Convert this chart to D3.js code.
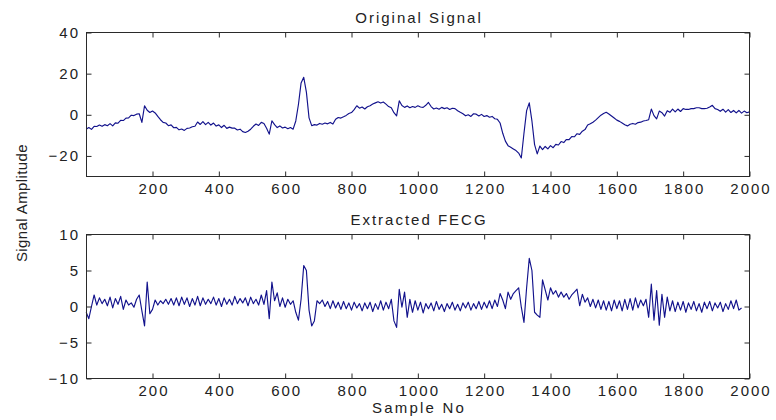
<!DOCTYPE html>
<html>
<head>
<meta charset="utf-8">
<script src="https://cdn.jsdelivr.net/npm/d3@7"></script>
<style>
  html, body { margin: 0; padding: 0; background: #fff; }
  svg text { font-family: "Liberation Sans", Arial, Helvetica, sans-serif; fill: #222; }
</style>
</head>
<body>
<svg id="chart" width="776" height="420"></svg>
<script>
// Sample spacing of the stored signals (every 8th sample, starting at 0)
const sampleStep = 8;

// Abdominal recording, samples 0..2000
const originalSignal = [
  -7, -6.2, -7.1, -5.6, -5.7, -5.0, -5.6, -4.8, -5.3, -4.3,
  -5.4, -3.9, -4.1, -2.7, -2.8, -1.6, -1.5, -0.2, -0.4, 0.3,
  0.5, -3.7, 4.4, 2.2, 1.1, 1.8, 0.9, -0.8, -2.4, -3.7,
  -4.0, -5.3, -4.9, -6.3, -6.1, -7.3, -6.9, -7.6, -6.6, -6.4,
  -5.8, -5.6, -3.5, -4.7, -3.3, -4.8, -3.7, -5.0, -4.0, -5.5,
  -4.9, -6.2, -5.1, -6.6, -6.0, -6.5, -6.5, -7.4, -7.0, -8.2,
  -8.6, -8.0, -7.0, -5.6, -4.5, -5.2, -3.7, -4.2, -6.5, -9.4,
  -2.9, -4.8, -6.2, -5.4, -6.4, -6.0, -6.8, -6.2, -7.0, -3.0,
  5.0, 15.5, 18.2, 11.0, -1.5, -5.3, -4.8, -5.0, -4.2, -4.6,
  -4.0, -4.4, -3.7, -4.5, -2.2, -1.3, -1.6, -1.0, -0.3, 0.6,
  1.1, 2.5, 4.4, 3.2, 3.8, 2.8, 3.9, 4.4, 5.2, 5.8,
  6.3, 5.7, 6.2, 5.2, 4.0, 3.4, 1.0, -0.5, 6.8, 4.5,
  3.6, 4.3, 3.4, 4.0, 3.6, 4.4, 3.8, 3.6, 4.6, 6.0,
  4.0, 2.8, 3.3, 2.7, 3.6, 3.0, 3.4, 2.6, 3.2, 3.0,
  2.0, 1.2, 0.5, -0.5, 0.0, -0.8, 0.5, 0.3, -0.6, 0.2,
  -0.8, -0.4, -1.2, -0.8, -1.9, -2.2, -4.0, -9.0, -12.8, -15.0,
  -15.8, -16.6, -17.4, -18.6, -21.0, -9.0, 2.0, 5.8, -3.0, -14.5,
  -19.0, -15.2, -16.9, -15.4, -16.6, -15.0, -16.0, -14.4, -14.7, -13.0,
  -13.5, -12.0, -12.1, -10.6, -10.7, -9.2, -9.5, -8.0, -7.2, -5.0,
  -4.4, -3.6, -2.6, -1.4, -0.2, 0.6, 1.2, 0.4, -0.6, -1.6,
  -2.6, -3.2, -4.0, -4.8, -5.4, -4.6, -4.2, -4.6, -3.8, -3.6,
  -3.0, -2.8, -2.4, 2.8, -0.4, -2.0, 1.8, 1.0, -0.6, 2.0,
  1.2, 2.8, 1.4, 2.8, 1.6, 3.0, 2.6, 2.6, 3.0, 3.0,
  3.4, 3.4, 3.0, 3.0, 3.2, 3.8, 4.6, 3.0, 2.6, 1.7,
  2.7, 1.3, 2.5, 1.1, 2.1, 0.9, 2.1, 0.8, 1.8, 1.0,
  1.4
];

// Fetal ECG after separation, samples 0..1976
const fecgSignal = [
  -0.8, -1.7, 0.0, 1.6, 0.2, 1.2, 0.4, 1.0, 0.1, 1.3,
  -0.2, 1.1, 0.3, 1.4, -0.4, 0.9, 0.2, 0.5, -0.1, 1.0,
  1.6, -0.6, -2.7, 3.4, -1.0, -0.4, 0.9, 0.2, 0.8, 0.4,
  1.0, 0.3, 1.1, 0.2, 1.2, 0.1, 1.3, 0.3, 1.2, 0.0,
  1.1, 0.2, 1.4, 0.1, 1.2, 0.3, 1.0, 0.4, 1.3, 0.2,
  1.1, 0.0, 1.2, 0.3, 1.0, 0.2, 1.4, 0.4, 1.1, 0.5,
  1.2, 0.1, 1.3, 0.4, 1.0, 0.2, 1.6, 0.3, 2.2, -1.7,
  3.4, 0.8, 1.9, 0.0, 1.2, -0.1, 1.0, 0.3, 0.8, -0.8,
  -1.9, 1.0, 5.7, 5.0, -0.5, -2.7, -2.0, 0.8, 0.4, 0.9,
  0.0, 0.7, -0.3, 0.8, -0.2, 0.6, -0.4, 0.7, -0.3, 0.5,
  -0.5, 0.6, -0.2, 0.4, -0.6, 0.5, -0.3, 0.6, -0.7, 0.4,
  -0.4, 0.8, -0.5, 0.6, -0.3, 1.0, -2.0, -2.9, 2.4, -0.1,
  2.0, -1.5, 1.0, -0.8, 0.8, -0.5, 0.6, -0.9, 0.4, -0.3,
  0.5, -0.6, 0.7, -0.4, 0.3, -0.7, 0.4, -0.3, 0.6, -0.5,
  0.3, -0.6, 0.5, -0.2, 0.6, -0.5, 0.4, -0.3, 0.7, -0.4,
  0.6, -0.2, 0.8, -0.3, 0.9, 0.0, 1.8, 0.9, -0.3, 2.0,
  1.0, 1.8, 2.2, 2.6, -0.1, -2.2, 2.6, 6.7, 5.0, -0.8,
  -1.2, -1.5, 3.7, 2.3, 0.9, 2.6, 1.7, 2.2, 1.3, 2.0,
  1.3, 1.8, 1.0, 1.6, 2.0, 2.4, 0.1, 1.7, 0.6, 1.2,
  0.0, 1.0, -0.2, 0.9, -0.4, 0.8, -0.5, 0.7, -0.6, 0.9,
  -0.3, 0.8, -0.6, 1.0, -0.4, 1.1, -0.5, 1.2, -0.2, 0.9,
  0.1, 1.0, -1.5, 3.1, -1.9, 2.2, -2.6, 1.7, -1.5, 1.3,
  -0.6, 0.8, -0.7, 0.6, -0.5, 0.7, -0.8, 0.5, -0.4, 0.7,
  -0.6, 0.4, -0.8, 0.6, -0.3, 0.7, -0.6, 0.5, -0.2, 0.6,
  -0.7, 0.4, -0.4, 0.8, -0.3, 0.9, -0.5, -0.2
];

const xDomain = [1, 2000];
const xTicks = [200, 400, 600, 800, 1000, 1200, 1400, 1600, 1800, 2000];
const originalYDomain = [-30, 40];
const originalYTicks = [-20, 0, 20, 40];
const fecgYDomain = [-10, 10];
const fecgYTicks = [-10, -5, 0, 5, 10];

const titles = ["Original Signal", "Extracted FECG"];
const xLabel = "Sample No";
const yLabel = "Signal Amplitude";

const svg = d3.select("#chart");
const left = 86.5, right = 749.5;
const axisColor = "#2a2a2a";
const lineColor = "#12128c";
const tickLen = 5;

function drawPanel(values, yDomain, yTicks, top, bottom, title, titleY) {
  const x = d3.scaleLinear().domain(xDomain).range([left, right]);
  const y = d3.scaleLinear().domain(yDomain).range([bottom, top]);
  const g = svg.append("g");

  // signal trace
  const line = d3.line()
    .x((d, i) => x(i * sampleStep))
    .y(d => y(d));
  g.append("path")
    .datum(values)
    .attr("fill", "none")
    .attr("stroke", lineColor)
    .attr("stroke-width", 1.15)
    .attr("stroke-linejoin", "round")
    .attr("d", line);

  const styleAxis = sel => {
    sel.select(".domain").remove();
    sel.selectAll(".tick line").attr("stroke", axisColor);
    sel.selectAll(".tick text")
      .style("font-size", "15px")
      .style("letter-spacing", "2px")
      .attr("fill", "#222");
  };

  // bottom axis with labels, inward ticks
  g.append("g")
    .attr("transform", `translate(0,${bottom})`)
    .call(d3.axisBottom(x).tickValues(xTicks).tickSize(-tickLen).tickPadding(6.5).tickFormat(d3.format("d")))
    .call(styleAxis)
    .call(s => s.selectAll(".tick text").attr("dx", 1));
  // top axis, ticks only
  g.append("g")
    .attr("transform", `translate(0,${top})`)
    .call(d3.axisTop(x).tickValues(xTicks).tickSize(-tickLen).tickFormat(""))
    .call(styleAxis);
  // left axis with labels
  g.append("g")
    .attr("transform", `translate(${left},0)`)
    .call(d3.axisLeft(y).tickValues(yTicks).tickSize(-tickLen).tickPadding(6.5).tickFormat(d3.format("d")))
    .call(styleAxis);
  // right axis, ticks only
  g.append("g")
    .attr("transform", `translate(${right},0)`)
    .call(d3.axisRight(y).tickValues(yTicks).tickSize(-tickLen).tickFormat(""))
    .call(styleAxis);

  // axes box
  g.append("rect")
    .attr("x", left).attr("y", top)
    .attr("width", right - left).attr("height", bottom - top)
    .attr("fill", "none")
    .attr("stroke", axisColor)
    .attr("stroke-width", 1);

  g.append("text")
    .attr("x", (left + right) / 2 + 1)
    .attr("y", titleY)
    .attr("text-anchor", "middle")
    .style("font-size", "15px")
    .style("letter-spacing", "2px")
    .text(title);
}

drawPanel(originalSignal, originalYDomain, originalYTicks, 32.5, 176.5, titles[0], 23);
drawPanel(fecgSignal, fecgYDomain, fecgYTicks, 234.5, 378.5, titles[1], 225);

svg.append("text")
  .attr("x", (left + right) / 2 + 1)
  .attr("y", 412.5)
  .attr("text-anchor", "middle")
  .style("font-size", "15px")
  .style("letter-spacing", "2.2px")
  .text(xLabel);

svg.append("text")
  .attr("transform", "translate(27,203) rotate(-90)")
  .attr("text-anchor", "middle")
  .style("font-size", "15px")
  .style("letter-spacing", "0.4px")
  .text(yLabel);
</script>
</body>
</html>
